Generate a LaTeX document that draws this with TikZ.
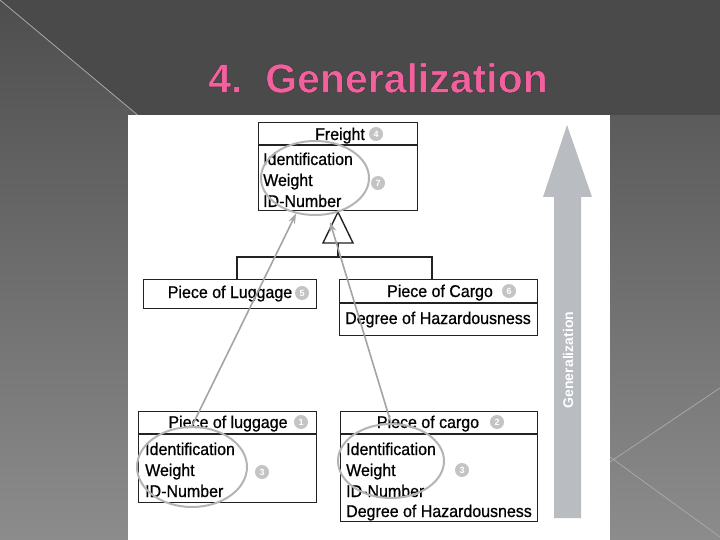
\documentclass[tikz,border=0pt]{standalone}
\usepackage{fontspec}
\setmainfont{Liberation Sans}
\newfontfamily\boxfont[FakeBold=0.7,FakeStretch=0.94]{Liberation Sans}
\newfontfamily\titlefont[FakeBold=1.2]{Liberation Sans Bold}
\usetikzlibrary{shapes.geometric,arrows.meta}
\definecolor{bgtop}{HTML}{4E4E4E}
\definecolor{bgbot}{HTML}{8C8C8C}
\definecolor{bgdark}{HTML}{4A4A4A}
\definecolor{linegray}{HTML}{A8A8A8}
\definecolor{titlepink}{HTML}{F2609E}
\definecolor{boxline}{HTML}{222222}
\definecolor{numgray}{HTML}{C4C4C4}
\definecolor{ovalgray}{HTML}{B4B4B4}
\definecolor{arrowgray}{HTML}{A4A4A4}
\definecolor{bigarrow}{HTML}{B9BCC0}
\newcommand{\outlinedtext}[1]{\textcolor{titlepink}{\special{pdf:literal direct 2 Tr 0.5 w 0.22 0.22 0.22 RG}#1\special{pdf:literal direct 0 Tr}}}
\begin{document}
\begin{tikzpicture}[x=1pt,y=-1pt,
  box/.style={draw=boxline, line width=1.4pt, inner sep=0pt, anchor=north west, fill=white},
  txt/.style={inner sep=0pt, font=\boxfont\fontsize{17}{19}\selectfont, text=black, anchor=base west},
  hdr/.style={inner sep=0pt, font=\boxfont\fontsize{17}{19}\selectfont, text=black, anchor=base},
  num/.style={circle, fill=numgray, inner sep=0pt, minimum size=14pt, text=white, font=\fontsize{9}{9}\selectfont\bfseries},
  oval/.style={ellipse, draw=ovalgray, line width=2pt, inner sep=0pt},
  garrow/.style={draw=arrowgray, line width=1.6pt, -{Stealth[length=10pt,width=7pt]}},
  divider/.style={draw=boxline, line width=1.4pt},
  title/.style={inner sep=0pt, font=\titlefont\fontsize{41}{45}\selectfont}
]
\useasboundingbox (0,0) rectangle (720,540);
% background
\shade[top color=bgtop, bottom color=bgbot] (0,0) rectangle (720,540);
\fill[bgdark] (0,0) -- (720,0) -- (720,115) -- (138,115) -- cycle;
\draw[linegray, line width=0.8pt] (0,0) -- (140,117);
\draw[linegray, line width=0.8pt] (720,388) -- (610,462);
\draw[linegray, line width=0.8pt] (610,457) -- (720,537);
% title
\node[title] (title) at (378,78) {\outlinedtext{4.\ \ Generalization}};
% white panel
\fill[white] (128,115) rectangle (610,540);

% Freight
\node[box, minimum width=159pt, minimum height=88pt] (freight) at (258,122) {};
\draw[divider] (freight.west |- 0,145) -- (freight.east |- 0,145);
\node[hdr] (fname) at (340,140) {Freight};
\node[num] (n4) at (376,134) {4};
\node[txt] (fa1) at (263,165) {Identification};
\node[txt] (fa2) at (263,186) {Weight};
\node[txt] (fa3) at (263,207) {ID-Number};
\node[num] (n7) at (378,183) {7};

% Piece of Luggage (middle)
\node[box, minimum width=173pt, minimum height=29pt] (plug) at (143,279) {};
\node[hdr] (plugname) at (230,298) {Piece of Luggage};
\node[num] (n5) at (302,293) {5};

% Piece of Cargo (middle)
\node[box, minimum width=198pt, minimum height=56pt] (pcar) at (339,279) {};
\draw[divider] (pcar.west |- 0,303) -- (pcar.east |- 0,303);
\node[hdr] (pcarname) at (440,297) {Piece of Cargo};
\node[num] (n6) at (509,291) {6};
\node[txt] (pca1) at (345,324) {Degree of Hazardousness};

% generalization triangle and bar
\coordinate (apex) at (338,212);
\coordinate (tbl) at (323,243);
\coordinate (tbr) at (353,243);
\coordinate (tbm) at (338,243);
\coordinate (barl) at (237,257);
\coordinate (barr) at (432,257);
\coordinate (barm) at (338,257);
\draw[boxline, line width=1.4pt] (barl |- plug.north) -- (barl) -- (barr) -- (barr |- pcar.north);
\draw[boxline, line width=1.4pt] (tbm) -- (barm);
\draw[boxline, line width=1.4pt, fill=white] (apex) -- (tbl) -- (tbr) -- cycle;

% Piece of luggage (bottom)
\node[box, minimum width=178pt, minimum height=91pt] (blug) at (138,411) {};
\draw[divider] (blug.west |- 0,434) -- (blug.east |- 0,434);
\node[hdr] (bname) at (228,428) {Piece of luggage};
\node[num] (n1) at (301,422) {1};
\node[txt] (ba1) at (145,455) {Identification};
\node[txt] (ba2) at (145,476) {Weight};
\node[txt] (ba3) at (145,497) {ID-Number};
\node[num] (n3a) at (262,472) {3};

% Piece of cargo (bottom)
\node[box, minimum width=197pt, minimum height=110pt] (bcar) at (340,411) {};
\draw[divider] (bcar.west |- 0,434) -- (bcar.east |- 0,434);
\node[hdr] (cname) at (428,428) {Piece of cargo};
\node[num] (n2) at (497,422) {2};
\node[txt] (ca1) at (346,455) {Identification};
\node[txt] (ca2) at (346,476) {Weight};
\node[txt] (ca3) at (346,497) {ID-Number};
\node[txt] (ca4) at (346,517) {Degree of Hazardousness};
\node[num] (n3b) at (462,470) {3};

% ovals
\node[oval, minimum width=108pt, minimum height=74pt] (e1) at (315,178) {};
\node[oval, minimum width=110pt, minimum height=80pt] (e3) at (192,467) {};
\node[oval, minimum width=106pt, minimum height=74pt] (e4) at (391,461) {};

% connectors
\coordinate (tip2) at (330,222);
\draw[garrow] (e3.north) -- (e1.242);
\draw[garrow] (e4.north) -- (tip2);

% big generalization arrow
\fill[bigarrow] (554,518) -- (554,197) -- (543,197) -- (567,125) -- (592,197) -- (581,197) -- (581,518) -- cycle;
\node[inner sep=0pt, rotate=90, text=white, font=\fontsize{14}{16}\selectfont\bfseries] (glabel) at (568,360) {Generalization};
\end{tikzpicture}
\end{document}
